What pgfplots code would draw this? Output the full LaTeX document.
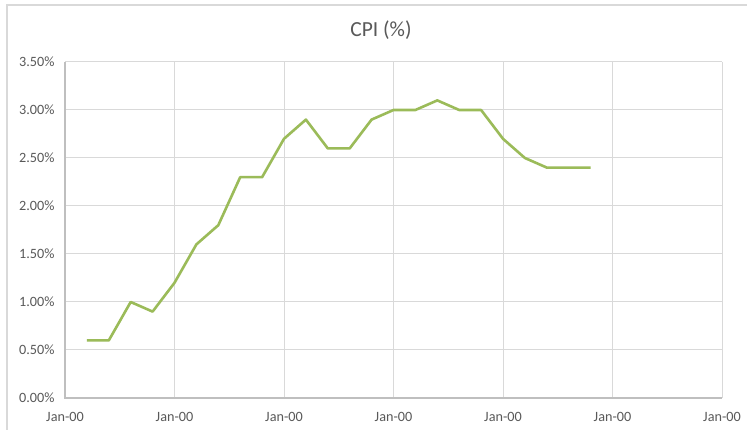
\documentclass[border=0pt]{standalone}
\usepackage{pgfplots}
\pgfplotsset{compat=1.18}
\usepackage{fontspec}
\setmainfont{Carlito}
\definecolor{txt}{HTML}{595959}
\definecolor{gridc}{HTML}{D9D9D9}
\definecolor{axc}{HTML}{BFBFBF}
\definecolor{linec}{HTML}{9BBB59}
\begin{document}
\begin{tikzpicture}[x=1pt,y=1pt]
\useasboundingbox (0,0) rectangle (747,430);
\fill[white] (0,0) rectangle (747,430);
\draw[gridc, line width=1.2pt] (7,-10) -- (7,425) -- (760,425);
\node[text=txt, font=\fontsize{21.5}{25}\selectfont] at (381,400) {CPI (\%)};
\begin{axis}[
  at={(65pt,32pt)}, anchor=south west,
  scale only axis, width=657pt, height=336pt,
  xmin=0, xmax=30, ymin=0, ymax=3.5,
  xtick={0,5,...,30},
  xticklabels={Jan-00,Jan-00,Jan-00,Jan-00,Jan-00,Jan-00,Jan-00},
  ytick={0,0.5,...,3.5},
  yticklabel={\pgfmathprintnumber[fixed,fixed zerofill,precision=2]{\tick}\%},
  /pgf/number format/assume math mode=true,
  tick label style={text=txt, font=\fontsize{14.2}{17}\selectfont},
  grid=major,
  major grid style={gridc, line width=1pt},
  axis line style={draw=none},
  axis x line*=bottom, axis y line*=left,
  tick style={draw=none},
  xticklabel style={yshift=-11pt},
  yticklabel style={xshift=-7pt},
  clip=false,
]
\draw[gridc, line width=1pt] (axis cs:30,0) -- (axis cs:30,3.5);
\draw[gridc, line width=1pt] (axis cs:0,3.5) -- (axis cs:30,3.5);
\draw[axc, line width=1.5pt] (axis cs:0,3.5) -- (axis cs:0,0) -- (axis cs:30,0);
\addplot[linec, line width=2.6pt, line join=round, mark=none] coordinates {
(1,0.6) (2,0.6) (3,1.0) (4,0.9) (5,1.2) (6,1.6) (7,1.8) (8,2.3) (9,2.3) (10,2.7)
(11,2.9) (12,2.6) (13,2.6) (14,2.9) (15,3.0) (16,3.0) (17,3.1) (18,3.0) (19,3.0) (20,2.7)
(21,2.5) (22,2.4) (23,2.4) (24,2.4)
};
\end{axis}
\end{tikzpicture}
\end{document}
